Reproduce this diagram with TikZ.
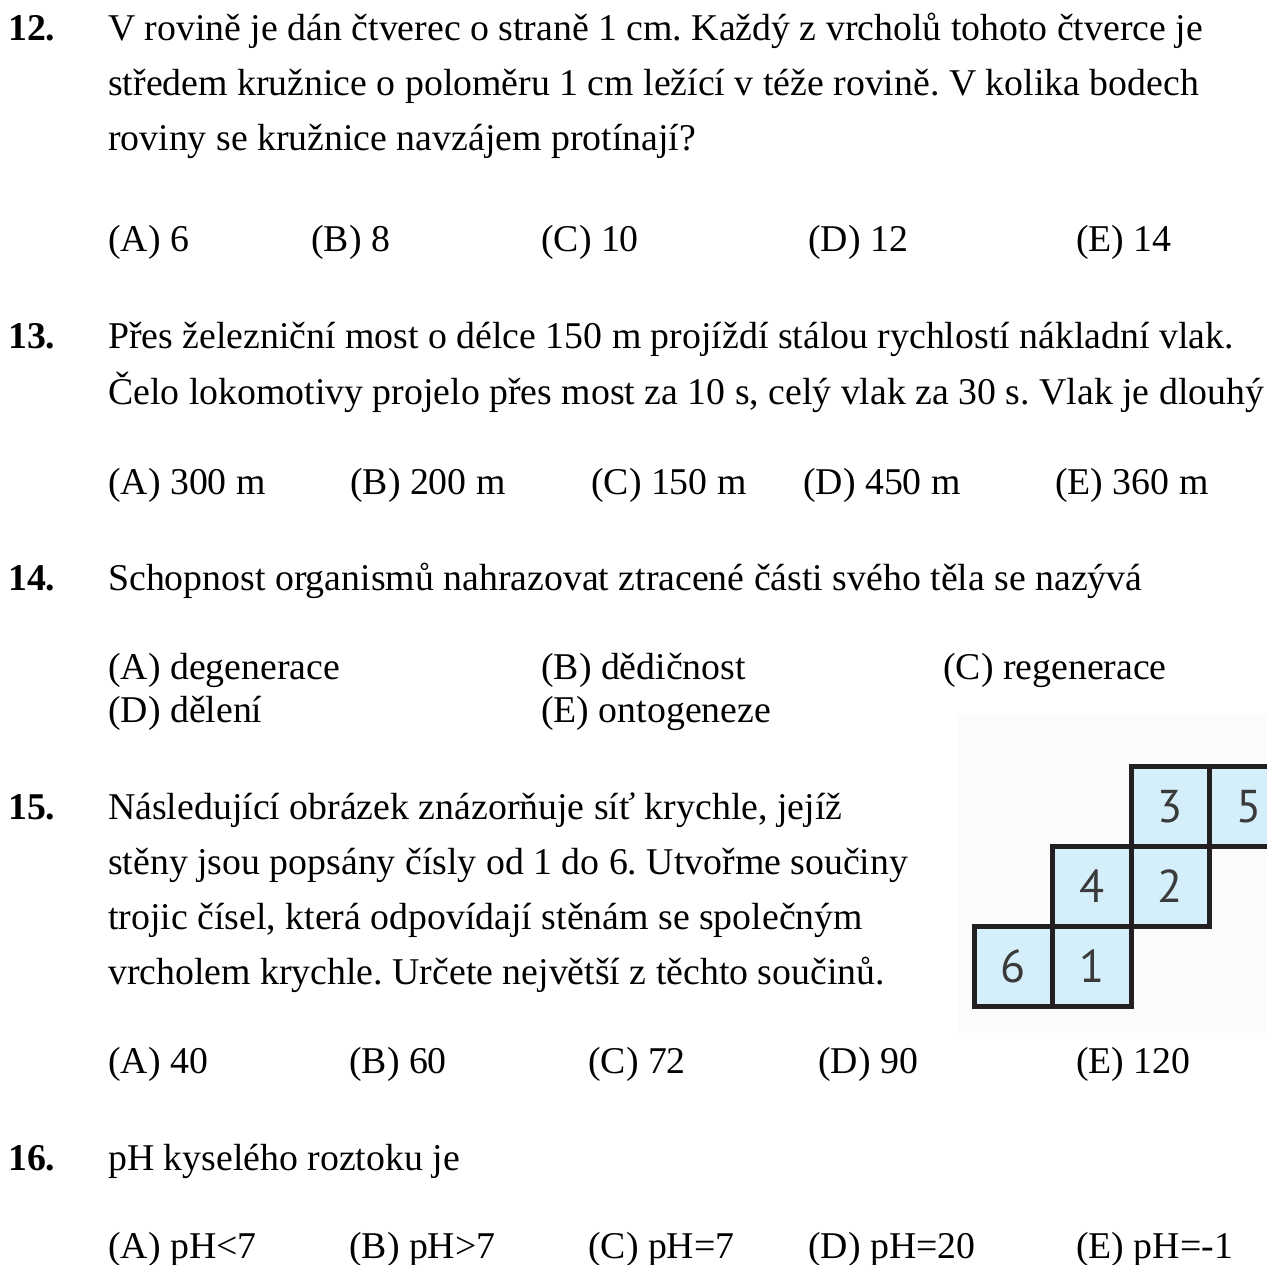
\documentclass[tikz,border=0pt]{standalone}
\usepackage{fontspec}
\setmainfont{Liberation Serif}
\newfontfamily\netfont{PT Sans}
\definecolor{netblue}{HTML}{D5EFFA}
\definecolor{netline}{HTML}{231F20}
\definecolor{netdigit}{HTML}{3A3A3A}
\definecolor{netback}{HTML}{FBFBFB}
\frenchspacing
\tikzstyle{every node}=[inner sep=0pt,anchor=base west,font=\fontsize{37.8}{46}\selectfont]
\tikzstyle{num}=[font=\fontsize{37.8}{46}\selectfont\bfseries]
\tikzstyle{face}=[draw=netline,line width=5pt,fill=netblue,minimum width=78.5pt,minimum height=80pt,anchor=center,text=netdigit,font=\netfont\fontsize{46}{46}\selectfont]

\begin{document}
\begin{tikzpicture}[x=1pt,y=-1pt]
\clip (0,0) rectangle (1267,1265);
\fill[white] (0,0) rectangle (1267,1265);
% question 12
\node[num] (n12) at (8,41) {12.};
\node (q12_1) at (108,41) {V rovině je dán čtverec o straně 1 cm. Každý z vrcholů tohoto čtverce je};
\node (q12_2) at (108,96) {středem kružnice o poloměru 1 cm ležící v téže rovině. V kolika bodech};
\node (q12_3) at (108,151) {roviny se kružnice navzájem protínají?};
\node (a12) at (108,252) {(A) 6};
\node (b12) at (311,252) {(B) 8};
\node (c12) at (541,252) {(C) 10};
\node (d12) at (808,252) {(D) 12};
\node (e12) at (1076,252) {(E) 14};
% question 13
\node[num] (n13) at (8,349) {13.};
\node (q13_1) at (108,349) {Přes železniční most o délce 150 m projíždí stálou rychlostí nákladní vlak.};
\node (q13_2) at (108,404) {Čelo lokomotivy projelo přes most za 10 s, celý vlak za 30 s. Vlak je dlouhý};
\node (a13) at (108,494) {(A) 300 m};
\node (b13) at (350,494) {(B) 200 m};
\node (c13) at (591,494) {(C) 150 m};
\node (d13) at (803,494) {(D) 450 m};
\node (e13) at (1055,494) {(E) 360 m};
% question 14
\node[num] (n14) at (8,590) {14.};
\node (q14_1) at (108,590) {Schopnost organismů nahrazovat ztracené části svého těla se nazývá};
\node (a14) at (108,679) {(A) degenerace};
\node (b14) at (541,679) {(B) dědičnost};
\node (c14) at (943,679) {(C) regenerace};
\node (d14) at (108,722) {(D) dělení};
\node (e14) at (541,722) {(E) ontogeneze};
% question 15
\node[num] (n15) at (8,819) {15.};
\node (q15_1) at (108,819) {Následující obrázek znázorňuje síť krychle, jejíž};
\node (q15_2) at (108,874) {stěny jsou popsány čísly od 1 do 6. Utvořme součiny};
\node (q15_3) at (108,929) {trojic čísel, která odpovídají stěnám se společným};
\node (q15_4) at (108,984) {vrcholem krychle. Určete největší z těchto součinů.};
\node (a15) at (108,1073) {(A) 40};
\node (b15) at (349,1073) {(B) 60};
\node (c15) at (588,1073) {(C) 72};
\node (d15) at (818,1073) {(D) 90};
\node (e15) at (1076,1073) {(E) 120};
% cube net
\fill[netback] (957,715) rectangle (1267,1033);
\node[face] (f6) at (1013.25,966.5) {6};
\node[face] (f1) at (1091.75,966.5) {1};
\node[face] (f4) at (1091.75,886) {4};
\node[face] (f2) at (1170.25,886) {2};
\node[face] (f3) at (1170.25,806.5) {3};
\node[face] (f5) at (1248.75,806.5) {5};
% question 16
\node[num] (n16) at (8,1170) {16.};
\node (q16_1) at (108,1170) {pH kyselého roztoku je};
\node (a16) at (108,1258) {(A) pH<7};
\node (b16) at (349,1258) {(B) pH>7};
\node (c16) at (588,1258) {(C) pH=7};
\node (d16) at (808,1258) {(D) pH=20};
\node (e16) at (1076,1258) {(E) pH=-1};
\end{tikzpicture}
\end{document}
